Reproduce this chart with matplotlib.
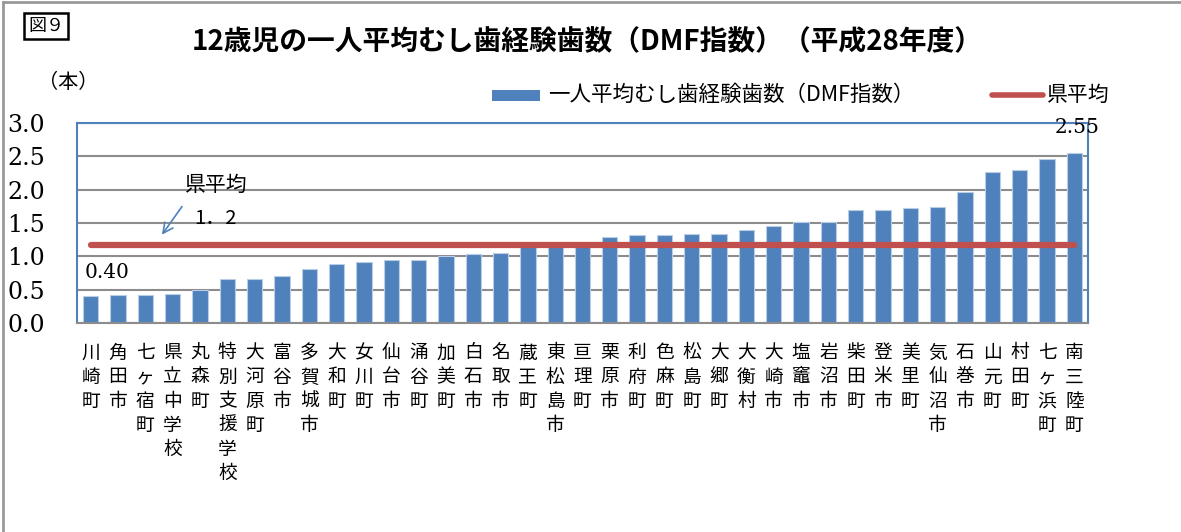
import matplotlib
matplotlib.use("Agg")
import matplotlib.pyplot as plt
from matplotlib.patches import Rectangle
from matplotlib.lines import Line2D

plt.rcParams['font.family'] = ['Noto Sans CJK JP', 'DejaVu Sans']

categories = ["川崎町", "角田市", "七ヶ宿町", "県立中学校", "丸森町", "特別支援学校", "大河原町",
              "富谷市", "多賀城市", "大和町", "女川町", "仙台市", "涌谷町", "加美町", "白石市",
              "名取市", "蔵王町", "東松島市", "亘理町", "栗原市", "利府町", "色麻町", "松島町",
              "大郷町", "大衡村", "大崎市", "塩竈市", "岩沼市", "柴田町", "登米市", "美里町",
              "気仙沼市", "石巻市", "山元町", "村田町", "七ヶ浜町", "南三陸町"]
dmf_values = [0.40, 0.42, 0.42, 0.44, 0.50, 0.66, 0.66, 0.70, 0.81, 0.88, 0.92, 0.94, 0.95,
              1.01, 1.03, 1.05, 1.16, 1.17, 1.18, 1.29, 1.32, 1.32, 1.33, 1.33, 1.40, 1.46,
              1.51, 1.52, 1.69, 1.69, 1.72, 1.74, 1.96, 2.26, 2.30, 2.46, 2.55]
pref_avg = 1.17
yticks = [0.0, 0.5, 1.0, 1.5, 2.0, 2.5, 3.0]
ytick_labels = ["0.0", "0.5", "1.0", "1.5", "2.0", "2.5", "3.0"]

title = "12歳児の一人平均むし歯経験歯数（DMF指数）（平成28年度）"
series_name = "一人平均むし歯経験歯数（DMF指数）"
avg_name = "県平均"

BLUE = "#4F81BD"
RED = "#C0504D"
GRID = "#8C8C8C"

W, H = 1181, 532
fig = plt.figure(figsize=(W / 100, H / 100), dpi=100)

def fx(px):
    return px / W

def fy(py):
    return 1 - py / H

ax = fig.add_axes([fx(77), fy(323), fx(1088) - fx(77), fy(123) - fy(323)])

x = list(range(len(categories)))
ax.bar(x, dmf_values, width=0.56, color=BLUE, edgecolor="#B9CDE5", linewidth=0.8, zorder=2)
ax.plot(x, [pref_avg] * len(x), color=RED, linewidth=4.5, solid_capstyle="round", zorder=3)

ax.set_xlim(-0.5, len(categories) - 0.5)
ax.set_ylim(0, 3.0)
ax.set_yticks(yticks)
ax.set_yticklabels(ytick_labels, family="DejaVu Serif", fontsize=17)
ax.yaxis.grid(True, color=GRID, linewidth=1.5, zorder=1)
ax.set_axisbelow(True)
ax.set_xticks(x)
ax.set_xticklabels(["\n".join(c) for c in categories], fontsize=13.5, linespacing=1.19,
                   va="top")
ax.tick_params(axis="both", length=0)
ax.tick_params(axis="y", pad=23)
ax.tick_params(axis="x", pad=14)

for side in ["left", "top", "right"]:
    ax.spines[side].set_color(BLUE)
    ax.spines[side].set_linewidth(1.5)
ax.spines["bottom"].set_color(GRID)
ax.spines["bottom"].set_linewidth(1.5)

# data labels
ax.text(0.6, 0.75, f"{dmf_values[0]:.2f}", family="DejaVu Serif", fontsize=14.5,
        ha="center", va="center")
ax.text(36.1, 2.93, f"{dmf_values[-1]:.2f}", family="DejaVu Serif", fontsize=14.5,
        ha="center", va="center", clip_on=False, zorder=5)

# annotation for prefecture average
ax.text(4.6, 2.07, "県平均", fontsize=15, ha="center", va="center")
ax.text(4.55, 1.57, "1．2", fontsize=14.5, ha="center", va="center")
ax.annotate("", xy=(2.55, 1.29), xytext=(3.4, 1.78),
            arrowprops=dict(arrowstyle="->", color=BLUE, lw=1.2, mutation_scale=18))

# title and misc texts
fig.text(fx(587), fy(42), title, fontsize=20, fontweight="bold", ha="center", va="center")
fig.text(fx(68), fy(82), "（本）", fontsize=14.5, ha="center", va="center")
fig.text(fx(46), fy(26), "図９", fontsize=13, ha="center", va="center",
         bbox=dict(boxstyle="square,pad=0.2", fc="white", ec="black", lw=1.8))

# legend (manual)
fig.add_artist(Rectangle((fx(492), fy(101)), fx(540) - fx(492), fy(90) - fy(101),
                         facecolor=BLUE, edgecolor="none", transform=fig.transFigure))
fig.text(fx(548), fy(95), series_name, fontsize=15.5, ha="left", va="center")
fig.add_artist(Line2D([fx(992), fx(1043)], [fy(95), fy(95)], color=RED, linewidth=4,
                      solid_capstyle="round", transform=fig.transFigure))
fig.text(fx(1047), fy(95), avg_name, fontsize=15, ha="left", va="center")

# outer border (top and left)
fig.add_artist(Line2D([fx(3), fx(3)], [0, fy(2)], color="#999999", linewidth=2,
                      transform=fig.transFigure))
fig.add_artist(Line2D([fx(3), 1], [fy(2), fy(2)], color="#999999", linewidth=2,
                      transform=fig.transFigure))

fig.savefig("out.png", dpi=100)
